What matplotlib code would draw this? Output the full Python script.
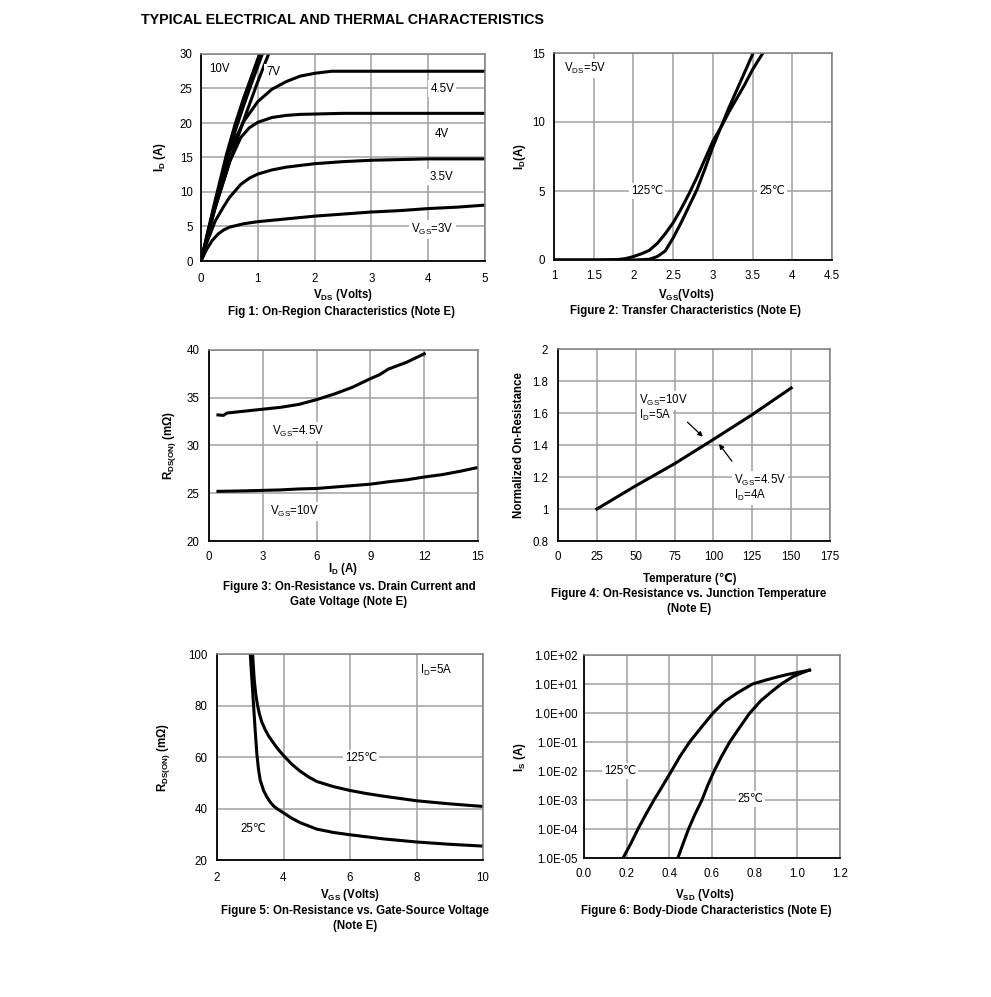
import matplotlib
matplotlib.use("Agg")
import matplotlib.pyplot as plt
import numpy as np
from matplotlib.ticker import FixedLocator

plt.rcParams['font.family'] = ['Liberation Sans', 'DejaVu Sans']
plt.rcParams['mathtext.fontset'] = 'custom'
plt.rcParams['mathtext.rm'] = 'Liberation Sans'
plt.rcParams['mathtext.it'] = 'Liberation Sans:italic'
plt.rcParams['mathtext.bf'] = 'Liberation Sans:bold'

# ---------------- data ----------------
# Fig 1: On-region characteristics
f1_vds_10 = [0, 0.1, 0.25, 0.45, 0.6, 0.75, 0.9, 1.03]
f1_id_10 = [0, 3.6, 8.8, 15.5, 19.8, 23.6, 27.0, 30]
f1_vds_7 = [0, 0.1, 0.25, 0.48, 0.6, 0.75, 0.9, 1.08]
f1_id_7 = [0, 3.4, 8.4, 15.0, 18.8, 22.5, 26.0, 30]
f1_vds_6 = [0, 0.1, 0.25, 0.53, 0.65, 0.8, 1.0, 1.19]
f1_id_6 = [0, 3.2, 7.8, 15.0, 18.0, 21.5, 26.0, 30]
f1_vds_45 = [0, 0.1, 0.25, 0.5, 0.75, 1.0, 1.25, 1.5, 1.75, 2.0, 2.3, 3.0, 4.0, 5.0]
f1_id_45 = [0, 3.2, 8.3, 15.8, 20.2, 23.1, 24.9, 26.0, 26.8, 27.2, 27.5, 27.5, 27.5, 27.5]
f1_vds_4 = [0, 0.1, 0.25, 0.5, 0.7, 0.85, 1.0, 1.25, 1.5, 1.75, 2.0, 2.5, 3.0, 4.0, 5.0]
f1_id_4 = [0, 3.0, 7.7, 14.3, 17.9, 19.3, 20.1, 20.8, 21.1, 21.25, 21.3, 21.4, 21.4, 21.4, 21.4]
f1_vds_35 = [0, 0.1, 0.25, 0.4, 0.5, 0.7, 0.85, 1.0, 1.25, 1.5, 2.0, 2.5, 3.0, 4.0, 5.0]
f1_id_35 = [0, 2.6, 5.8, 7.9, 9.2, 11.1, 12.0, 12.6, 13.2, 13.6, 14.1, 14.4, 14.6, 14.8, 14.8]
f1_vds_3 = [0, 0.1, 0.2, 0.3, 0.4, 0.5, 0.75, 1.0, 1.5, 2.0, 2.5, 3.0, 3.5, 4.0, 4.5, 5.0]
f1_id_3 = [0, 1.7, 3.0, 3.9, 4.5, 4.9, 5.4, 5.7, 6.1, 6.5, 6.8, 7.1, 7.3, 7.6, 7.8, 8.1]

# Fig 2: Transfer characteristics
f2_vgs_25 = [1.0, 1.5, 2.0, 2.2, 2.3, 2.4, 2.5, 2.6, 2.7, 2.8, 2.9, 3.0, 3.1, 3.2, 3.3, 3.4, 3.5]
f2_id_25 = [0, 0, 0, 0.05, 0.25, 0.65, 1.6, 2.7, 3.9, 5.1, 6.6, 8.2, 9.6, 11.0, 12.3, 13.6, 14.9]
f2_vgs_125 = [1.0, 1.5, 1.8, 1.9, 2.0, 2.1, 2.2, 2.3, 2.4, 2.5, 2.6, 2.7, 2.8, 2.9, 3.0, 3.1, 3.2, 3.3, 3.4, 3.5, 3.63]
f2_id_125 = [0, 0, 0.03, 0.1, 0.25, 0.45, 0.7, 1.2, 1.9, 2.7, 3.7, 4.8, 6.0, 7.3, 8.6, 9.6, 10.7, 11.7, 12.7, 13.8, 15.0]

# Fig 3: On-resistance vs drain current
f3_id_45 = [0.5, 0.8, 1.0, 1.5, 2.0, 3.0, 4.0, 5.0, 6.0, 7.0, 8.0, 9.0, 9.5, 10.0, 11.0, 12.0]
f3_r_45 = [33.2, 33.15, 33.4, 33.5, 33.6, 33.8, 34.0, 34.3, 34.8, 35.4, 36.1, 37.0, 37.4, 38.0, 38.7, 39.6]
f3_id_10 = [0.5, 2.0, 3.0, 4.0, 5.0, 6.0, 7.0, 8.0, 9.0, 10.0, 11.0, 12.0, 13.0, 14.0, 15.0]
f3_r_10 = [25.2, 25.25, 25.3, 25.35, 25.45, 25.5, 25.65, 25.8, 25.95, 26.2, 26.4, 26.7, 26.95, 27.3, 27.7]

# Fig 4: Normalized on-resistance vs temperature
f4_temp = [25, 50, 75, 100, 125, 150]
f4_rn = [1.0, 1.145, 1.283, 1.435, 1.59, 1.756]

# Fig 5: On-resistance vs gate-source voltage
f5_vgs_125 = [3.07, 3.12, 3.17, 3.22, 3.28, 3.35, 3.45, 3.55, 3.7, 3.85, 4.0, 4.25, 4.5, 4.75, 5.0, 5.5, 6.0, 6.5, 7.0, 8.0, 9.0, 10.0]
f5_r_125 = [100, 90, 84, 80, 76.5, 73.5, 70.6, 68.2, 65.4, 62.8, 60.6, 57.2, 54.5, 52.3, 50.5, 48.5, 47.0, 45.8, 44.8, 43.0, 41.8, 40.8]
f5_vgs_25 = [3.0, 3.05, 3.1, 3.15, 3.2, 3.25, 3.3, 3.4, 3.5, 3.6, 3.7, 3.85, 4.0, 4.25, 4.5, 5.0, 5.5, 6.0, 7.0, 8.0, 9.0, 10.0]
f5_r_25 = [100, 90, 80, 70, 61, 55, 51, 47, 44.5, 42.5, 41.0, 39.5, 38.3, 36.2, 34.5, 32.0, 30.7, 29.8, 28.2, 27.0, 26.1, 25.4]

# Fig 6: Body diode characteristics
f6_vsd_125 = [0.183, 0.22, 0.253, 0.29, 0.328, 0.37, 0.41, 0.45, 0.495, 0.55, 0.605, 0.66, 0.72, 0.79, 0.85, 0.9, 0.95, 1.0, 1.058]
f6_is_125 = [1e-5, 3.2e-5, 1e-4, 3.2e-4, 1e-3, 3.2e-3, 1e-2, 3.2e-2, 1e-1, 3.2e-1, 1.0, 2.5, 5.0, 10.0, 13.5, 17.0, 21.0, 25.0, 30.0]
f6_vsd_25 = [0.44, 0.465, 0.49, 0.52, 0.553, 0.58, 0.61, 0.645, 0.683, 0.73, 0.777, 0.83, 0.88, 0.925, 0.98, 1.02, 1.055]
f6_is_25 = [1e-5, 3.2e-5, 1e-4, 3.2e-4, 1e-3, 3.2e-3, 1e-2, 3.2e-2, 1e-1, 3.2e-1, 1.0, 2.7, 5.5, 10.0, 18.0, 24.0, 30.0]

# ---------------- figure ----------------
W, H = 991, 997
fig = plt.figure(figsize=(W / 100, H / 100), dpi=100)
fig.patch.set_facecolor('white')


def rect(l, t, r, b):
    return [l / W, 1 - b / H, (r - l) / W, (b - t) / H]


def fx(x):
    return x / W


def fy(y):
    return 1 - y / H


LW = 2.2
GRID = '#a0a0a0'
TS = 8.3
LS = 8.3
BOX = dict(facecolor='white', edgecolor='none', pad=1.5)


def style(ax, xt, yt, xl, yl, xpad, ypad, xfmt=None, yfmt=None):
    ax.set_xlim(xl)
    ax.set_ylim(yl)
    ax.xaxis.set_major_locator(FixedLocator(xt))
    ax.yaxis.set_major_locator(FixedLocator(yt))
    ax.set_xticklabels([xfmt(v) if xfmt else ('%g' % v) for v in xt])
    ax.set_yticklabels([yfmt(v) if yfmt else ('%g' % v) for v in yt])
    ax.grid(True, color=GRID, linewidth=1.1)
    ax.set_axisbelow(True)
    ax.tick_params(length=0, labelsize=TS)
    ax.tick_params(axis='x', pad=xpad)
    ax.tick_params(axis='y', pad=ypad)
    for s in ['left', 'bottom']:
        ax.spines[s].set_color('black')
        ax.spines[s].set_linewidth(1.3)
    for s in ['top', 'right']:
        ax.spines[s].set_color('#808080')
        ax.spines[s].set_linewidth(1.1)


def label(ax, x, y, s, ha='left', va='center'):
    ax.text(x, y, s, fontsize=LS, ha=ha, va=va, bbox=BOX, zorder=5)


def ftext(x, y, s, rot=0):
    fig.text(fx(x), fy(y), s, fontsize=TS, fontweight='bold', ha='center', va='center', rotation=rot)


fig.text(fx(141), fy(20), 'TYPICAL ELECTRICAL AND THERMAL CHARACTERISTICS',
         fontsize=10.3, fontweight='bold', ha='left', va='center')

# ---- Fig 1 ----
ax1 = fig.add_axes(rect(201, 54, 485, 261))
style(ax1, [0, 1, 2, 3, 4, 5], [0, 5, 10, 15, 20, 25, 30], (0, 5), (0, 30), 8.5, 6)
for xs, ys in [(f1_vds_10, f1_id_10), (f1_vds_7, f1_id_7), (f1_vds_6, f1_id_6),
               (f1_vds_45, f1_id_45), (f1_vds_4, f1_id_4), (f1_vds_35, f1_id_35),
               (f1_vds_3, f1_id_3)]:
    ax1.plot(xs, ys, color='black', lw=LW)
label(ax1, 0.14, 27.8, '10V')
label(ax1, 1.15, 27.4, '7V')
label(ax1, 4.04, 25.0, '4.5V')
label(ax1, 4.12, 18.4, '4V')
label(ax1, 4.02, 12.2, '3.5V')
label(ax1, 3.7, 4.6, r'V$_\mathrm{GS}$=3V')
ftext(343, 295, r'V$_\mathbf{DS}$ (Volts)')
ftext(341, 312, 'Fig 1: On-Region Characteristics (Note E)')
ftext(160, 157, r'I$_\mathbf{D}$ (A)', 90)

# ---- Fig 2 ----
ax2 = fig.add_axes(rect(554, 53, 832, 260))
style(ax2, [1, 1.5, 2, 2.5, 3, 3.5, 4, 4.5], [0, 5, 10, 15], (1, 4.5), (0, 15), 7.5, 6.5)
ax2.plot(f2_vgs_125, f2_id_125, color='black', lw=LW)
ax2.plot(f2_vgs_25, f2_id_25, color='black', lw=LW)
label(ax2, 1.13, 13.9, r'V$_\mathrm{DS}$=5V')
label(ax2, 2.17, 5.0, '125℃', ha='center')
label(ax2, 3.75, 5.0, '25℃', ha='center')
ftext(686, 295, r'V$_\mathbf{GS}$(Volts)')
ftext(686, 311, 'Figure 2: Transfer Characteristics (Note E)')
ftext(520, 157, r'I$_\mathbf{D}$(A)', 90)

# ---- Fig 3 ----
ax3 = fig.add_axes(rect(209, 350, 478, 541))
style(ax3, [0, 3, 6, 9, 12, 15], [20, 25, 30, 35, 40], (0, 15), (20, 40), 7, 7)
ax3.plot(f3_id_45, f3_r_45, color='black', lw=LW)
ax3.plot(f3_id_10, f3_r_10, color='black', lw=LW)
label(ax3, 3.5, 31.5, r'V$_\mathrm{GS}$=4.5V')
label(ax3, 3.4, 23.1, r'V$_\mathrm{GS}$=10V')
ftext(343, 569, r'I$_\mathbf{D}$ (A)')
ftext(349, 587, 'Figure 3: On-Resistance vs. Drain Current and')
ftext(349, 602, 'Gate Voltage (Note E)')
ftext(170, 445, r'R$_\mathbf{DS(ON)}$ (mΩ)', 90)

# ---- Fig 4 ----
ax4 = fig.add_axes(rect(558, 349, 830, 541))
style(ax4, [0, 25, 50, 75, 100, 125, 150, 175], [0.8, 1.0, 1.2, 1.4, 1.6, 1.8, 2.0], (0, 175), (0.8, 2.0), 7, 7)
ax4.plot(f4_temp, f4_rn, color='black', lw=LW)
label(ax4, 52, 1.68, r'V$_\mathrm{GS}$=10V')
label(ax4, 52, 1.585, r'I$_\mathrm{D}$=5A')
label(ax4, 113, 1.18, r'V$_\mathrm{GS}$=4.5V')
label(ax4, 113, 1.085, r'I$_\mathrm{D}$=4A')
ax4.annotate('', xy=(94.5, 1.44), xytext=(82, 1.555),
             arrowprops=dict(arrowstyle='-|>', color='black', lw=0.9, mutation_scale=7))
ax4.annotate('', xy=(102.5, 1.42), xytext=(113, 1.285),
             arrowprops=dict(arrowstyle='-|>', color='black', lw=0.9, mutation_scale=7))
ftext(690, 579, 'Temperature (℃)')
ftext(689, 594, 'Figure 4: On-Resistance vs. Junction Temperature')
ftext(689, 609, '(Note E)')
ftext(519, 445, 'Normalized On-Resistance', 90)

# ---- Fig 5 ----
ax5 = fig.add_axes(rect(217, 654, 483, 860))
style(ax5, [2, 4, 6, 8, 10], [20, 40, 60, 80, 100], (2, 10), (20, 100), 8.5, 7)
ax5.plot(f5_vgs_125, f5_r_125, color='black', lw=LW)
ax5.plot(f5_vgs_25, f5_r_25, color='black', lw=LW)
label(ax5, 8.1, 93.8, r'I$_\mathrm{D}$=5A')
label(ax5, 5.85, 59.5, '125℃')
label(ax5, 2.7, 32.0, '25℃')
ftext(350, 895, r'V$_\mathbf{GS}$ (Volts)')
ftext(355, 911, 'Figure 5: On-Resistance vs. Gate-Source Voltage')
ftext(355, 926, '(Note E)')
ftext(163, 757, r'R$_\mathbf{DS(ON)}$ (mΩ)', 90)

# ---- Fig 6 ----
ax6 = fig.add_axes(rect(584, 655, 840, 858))
ax6.set_yscale('log')
style(ax6, [0.0, 0.2, 0.4, 0.6, 0.8, 1.0, 1.2],
      [1e-5, 1e-4, 1e-3, 1e-2, 1e-1, 1e0, 1e1, 1e2], (0, 1.2), (1e-5, 1e2), 7.5, 4.5,
      xfmt=lambda v: '%.1f' % v,
      yfmt=lambda v: '1.0E%s%02d' % ('-' if v < 1 else '+', abs(int(round(np.log10(v))))))
ax6.yaxis.set_minor_locator(FixedLocator([]))
ax6.plot(f6_vsd_125, f6_is_125, color='black', lw=LW)
ax6.plot(f6_vsd_25, f6_is_25, color='black', lw=LW)
label(ax6, 0.095, 1e-2, '125℃')
label(ax6, 0.72, 1.05e-3, '25℃')
ftext(705, 895, r'V$_\mathbf{SD}$ (Volts)')
ftext(706, 911, 'Figure 6: Body-Diode Characteristics (Note E)')
ftext(520, 757, r'I$_\mathbf{S}$ (A)', 90)

fig.savefig('out.png', dpi=100, facecolor='white')
